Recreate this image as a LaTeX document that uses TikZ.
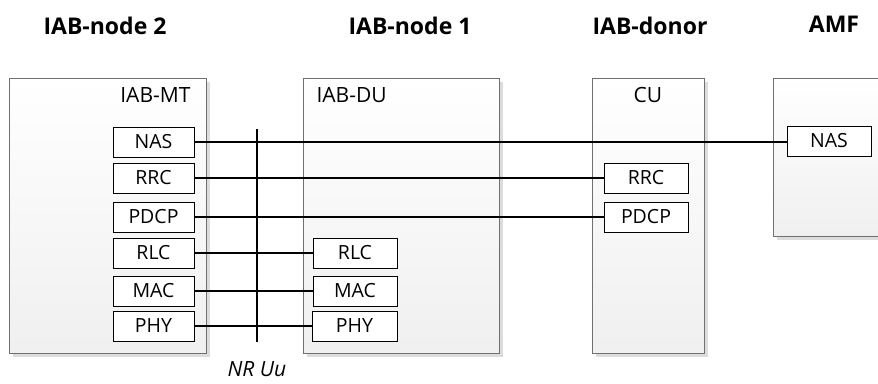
\documentclass[tikz,border=0pt]{standalone}
\usepackage{fontspec}
\setmainfont{Open Sans}
\usetikzlibrary{positioning}
\usetikzlibrary{shadows}
\definecolor{box-edge}{HTML}{707070}
\definecolor{box-shade}{HTML}{DCDCDC}
\tikzset{
  entity/.style 2 args={
    draw=box-edge, top color=white, bottom color=black!6,
    minimum width=#1, minimum height=#2, inner sep=0pt, anchor=north west,
    drop shadow={shadow xshift=4pt, shadow yshift=-4pt, fill=box-shade, opacity=1}},
  layer/.style={draw, thick, fill=white, minimum width=81pt, minimum height=30pt,
    inner sep=0pt, font=\fontsize{19.5}{19.5}\selectfont},
  entity-title/.style={font=\bfseries\fontsize{23}{23}\selectfont, anchor=base},
  entity-part/.style={font=\fontsize{21}{21}\selectfont, anchor=base},
  peer-link/.style={line width=1.5pt},
}
\begin{document}
\begin{tikzpicture}[x=1pt, y=-1pt]
\useasboundingbox (0,0) rectangle (878,383);
\clip (0,0) rectangle (878,383);
% entities
\node[entity={197pt}{275pt}] (mt) at (9,77.5) {};
\node[entity={196pt}{275pt}] (du) at (303,77.5) {};
\node[entity={112pt}{275pt}] (cu) at (592,77.5) {};
\node[entity={140pt}{158pt}] (amf) at (773,77.5) {};
% titles
\node[entity-title] (t-node2) at (105,34) {IAB-node 2};
\node[entity-title] (t-node1) at (410,34) {IAB-node 1};
\node[entity-title] (t-donor) at (650,34) {IAB-donor};
\node[entity-title] (t-amf) at (834,32) {AMF};
\node[entity-part, anchor=base east] (p-mt) at (194,102) {IAB-MT};
\node[entity-part, anchor=base west] (p-du) at (313,102) {IAB-DU};
\node[entity-part] (p-cu) at (648,102) {CU};
% protocol stack of the MT
\foreach \layer/\y in {nas/142, rrc/178, pdcp/217, rlc/253, mac/291, phy/326} {
  \node[layer] (mt-\layer) at (153.5,\y) {\MakeUppercase{\layer}};
}
% peers
\node[layer, minimum width=84pt] (du-rlc) at (355,253) {RLC};
\node[layer, minimum width=84pt] (du-mac) at (355,291) {MAC};
\node[layer, minimum width=85pt] (du-phy) at (354.5,326) {PHY};
\node[layer, minimum width=84pt] (cu-rrc) at (646,178) {RRC};
\node[layer, minimum width=84pt] (cu-pdcp) at (646,217) {PDCP};
\node[layer, minimum width=84pt] (amf-nas) at (829,141) {NAS};
% peer links
\draw[peer-link] (mt-nas.east) -- (amf-nas.west |- mt-nas.east);
\draw[peer-link] (mt-rrc) -- (cu-rrc);
\draw[peer-link] (mt-pdcp) -- (cu-pdcp);
\draw[peer-link] (mt-rlc) -- (du-rlc);
\draw[peer-link] (mt-mac) -- (du-mac);
\draw[peer-link] (mt-phy) -- (du-phy);
% air interface
\coordinate (uu-top) at (257,129);
\coordinate (uu-bottom) at (257,342);
\draw[line width=1.8pt] (uu-top) -- (uu-bottom);
\node[font=\itshape\fontsize{21}{21}\selectfont, anchor=base, inner sep=0pt] (uu) at (257,376) {NR Uu};
\end{tikzpicture}
\end{document}
